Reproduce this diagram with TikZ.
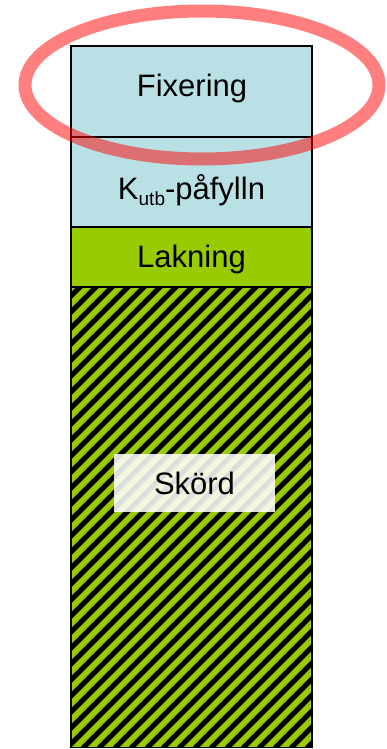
\documentclass[tikz,border=0pt]{standalone}
\usepackage{fontspec}
\setmainfont{Liberation Sans}
\usetikzlibrary{shapes.geometric}
\definecolor{lblue}{HTML}{B9E0E4}
\definecolor{lgreen}{HTML}{99CC00}
\begin{document}
\begin{tikzpicture}[x=1pt,y=-1pt,
  layer/.style={draw=black, line width=1.5pt, minimum width=241pt, inner sep=0pt, outer sep=0pt, rectangle},
  lbl/.style={anchor=base, inner sep=0pt, font=\fontsize{31}{36}\selectfont},
  ring/.style={draw=red, draw opacity=0.5, line width=13pt}]
\useasboundingbox (0,0) rectangle (386,749);
% layers
\node[layer, fill=lblue, minimum height=91pt] (fix) at (191.5,91.5) {};
\node[layer, fill=lblue, minimum height=90pt] (kutb) at (191.5,182) {};
\node[layer, fill=lgreen, minimum height=60pt] (lak) at (191.5,257) {};
\node[layer, fill=lgreen, minimum height=460pt] (skord) at (191.5,517.5) {};
% hatch
\begin{scope}
  \clip (skord.south west) rectangle (skord.north east);
  \foreach \i in {0,...,50} {
    \draw[line width=5.2pt, black] (71+\i*16-500, 748) -- (71+\i*16, 248);
  }
\end{scope}
\draw[line width=1.5pt] (skord.south west) rectangle (skord.north east);
% texts
\node[lbl] (tfix) at (192,97) {Fixering};
\node[lbl] (tkutb) at (191.5,199) {K\raisebox{-0.22em}{\fontsize{19}{20}\selectfont utb}-påfylln};
\node[lbl] (tlak) at (191.5,267) {Lakning};
\node[fill=white, fill opacity=0.87, text opacity=1, minimum width=161pt, minimum height=58pt, inner sep=0pt] (sbox) at (194.5,483) {};
\node[lbl] (tskord) at (194.5,494) {Skörd};
% ring
\node[ring, ellipse, minimum width=354pt, minimum height=148pt, inner sep=0pt] (ringnode) at (202,85) {};
\end{tikzpicture}
\end{document}
